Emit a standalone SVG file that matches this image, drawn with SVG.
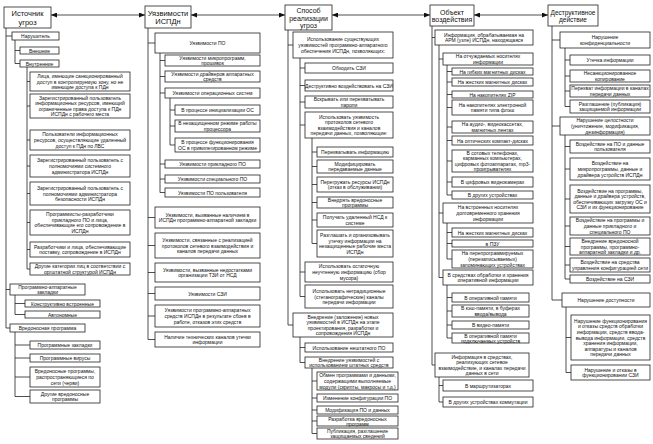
<svg xmlns="http://www.w3.org/2000/svg" width="653" height="444" viewBox="0 0 653 444">
<style>
rect{fill:#fff;stroke:#222;stroke-width:0.8}
text{font-family:"Liberation Sans",Arial,sans-serif;font-size:5px;text-anchor:middle;dominant-baseline:central;fill:#111}
.hd{font-size:7.5px}
.hs{font-size:7px}
.c path{fill:none;stroke:#222;stroke-width:0.8}
.c .ar{marker-start:url(#ah);marker-end:url(#ah)}
</style>
<defs>
<marker id="ah" markerUnits="userSpaceOnUse" markerWidth="6" markerHeight="5" refX="6" refY="2.5" orient="auto-start-reverse"><path d="M0 0L6 2.5L0 5z" fill="#111"/></marker>
</defs>
<rect x="0" y="0" width="653" height="444" style="fill:#fff;stroke:none"/>
<g class="c" id="connectors">
<path class="ar" d="M51 15H145"/><path class="ar" d="M191 15H285"/><path class="ar" d="M332 15H430"/><path class="ar" d="M474 15H548"/>
<path d="M6 28V328M6 36H12M6 289.5H10M6 328H10M15 40V63.5M15 50.5H20M15 63.5H20M27 67V269M27 81.5H30M27 106H30M27 140H30M27 166H30M27 193.5H30M27 222.5H30M27 249.5H30M27 269H30M15 295V314.5M15 303.5H25M15 314.5H25M15 332V396.5M15 345H30M15 358H30M15 377H30M15 396.5H30"/>
<path d="M148 28V339.5M148 43H155M148 217.5H155M148 245.5H155M148 272.5H155M148 293.5H155M148 316H155M148 339.5H155M160 53V192.5M160 60.5H165M160 76.5H165M160 93H165M160 164H165M160 179H165M160 192.5H165M170 98V145M170 110H175M170 126H175M170 145H175"/>
<path d="M288 30V325M288 45H293M288 325H293M300 58V296.5M300 68H305M300 85.5H305M300 102H305M300 125H305M300 272H305M300 296.5H305M312 138V243.5M312 152H317M312 166.5H317M312 184.5H317M312 202.5H317M312 220H317M312 243.5H317M300 337V362.5M300 347.5H305M300 362.5H305M312 368V433.5M312 381H317M312 398H317M312 410H317M312 421H317M312 433.5H317"/>
<path d="M432 26V365M432 37.5H435M432 365H435M439 45V277.5M439 59H443M439 213H443M439 277.5H443M447 65V195M447 71.5H452M447 82H452M447 94.5H452M447 107.5H452M447 127H452M447 140.5H452M447 161H452M447 182H452M447 195H452M447 223V259M447 232.5H452M447 243.5H452M447 259H452M447 285V338M447 297.5H452M447 311H452M447 325H452M447 338H452M439 377V402M439 385.5H443M439 402H443"/>
<path d="M552 26V300M552 40H560M552 126H560M552 300H562M565 48V106.5M565 60H570M565 76H570M565 91H570M565 106.5H570M565 135V279M565 146.5H570M565 169H570M565 199H570M565 226H570M565 246.5H570M565 265H570M565 279H570M566 307V372.5M566 337.5H571M566 372.5H571"/>
</g>
<g id="h1"><rect x="4" y="7" width="47" height="21"/><text class="hd" x="27.5" y="17.5"><tspan x="27.5" dy="-0.56em">Источник</tspan><tspan x="27.5" dy="1.12em">угроз</tspan></text></g>
<g id="n1"><rect x="12" y="32" width="47" height="8"/><text x="35.5" y="36">Нарушитель</text></g>
<g id="n1a"><rect x="20" y="47" width="39" height="7"/><text x="39.5" y="50.5">Внешние</text></g>
<g id="n1b"><rect x="20" y="60" width="39" height="7"/><text x="39.5" y="63.5">Внутренние</text></g>
<g id="i1"><rect x="30" y="72" width="100" height="19"/><text x="80" y="81.5"><tspan x="80" dy="-1.12em">Лица, имеющие санкционированный</tspan><tspan x="80" dy="1.12em">доступ в контролируемую зону, но не</tspan><tspan x="80" dy="1.12em">имеющие доступа к ПДн</tspan></text></g>
<g id="i2"><rect x="30" y="94" width="100" height="24"/><text x="80" y="106"><tspan x="80" dy="-1.68em">Зарегистрированный пользователь</tspan><tspan x="80" dy="1.12em">информационных ресурсов, имеющий</tspan><tspan x="80" dy="1.12em">ограниченные права доступа к ПДн</tspan><tspan x="80" dy="1.12em">ИСПДн с рабочего места</tspan></text></g>
<g id="i3"><rect x="30" y="130" width="100" height="20"/><text x="80" y="140"><tspan x="80" dy="-1.12em">Пользователи информационных</tspan><tspan x="80" dy="1.12em">ресурсов, осуществляющие удаленный</tspan><tspan x="80" dy="1.12em">доступ к ПДн по ЛВС</tspan></text></g>
<g id="i4"><rect x="30" y="155" width="100" height="22"/><text x="80" y="166"><tspan x="80" dy="-1.12em">Зарегистрированный пользователь с</tspan><tspan x="80" dy="1.12em">полномочиями системного</tspan><tspan x="80" dy="1.12em">администратора ИСПДн</tspan></text></g>
<g id="i5"><rect x="30" y="182" width="100" height="23"/><text x="80" y="193.5"><tspan x="80" dy="-1.12em">Зарегистрированный пользователь с</tspan><tspan x="80" dy="1.12em">полномочиями администратора</tspan><tspan x="80" dy="1.12em">безопасности ИСПДн</tspan></text></g>
<g id="i6"><rect x="30" y="210" width="100" height="25"/><text x="80" y="222.5"><tspan x="80" dy="-1.68em">Программисты-разработчики</tspan><tspan x="80" dy="1.12em">прикладного ПО и лица,</tspan><tspan x="80" dy="1.12em">обеспечивающие его сопровождение в</tspan><tspan x="80" dy="1.12em">ИСПДн</tspan></text></g>
<g id="i7"><rect x="30" y="242" width="100" height="15"/><text x="80" y="249.5"><tspan x="80" dy="-0.56em">Разработчики и лица, обеспечивающие</tspan><tspan x="80" dy="1.12em">поставку, сопровождение в ИСПДн</tspan></text></g>
<g id="i8"><rect x="30" y="263" width="100" height="12"/><text x="80" y="269"><tspan x="80" dy="-0.56em">Другие категории лиц в соответствии с</tspan><tspan x="80" dy="1.12em">оргштатной структурой ИСПДн</tspan></text></g>
<g id="paz"><rect x="10" y="284" width="75" height="11"/><text x="47.5" y="289.5"><tspan x="47.5" dy="-0.56em">Программно-аппаратные</tspan><tspan x="47.5" dy="1.12em">закладки</tspan></text></g>
<g id="paz1"><rect x="25" y="300" width="75" height="7"/><text x="62.5" y="303.5">Конструктивно встроенные</text></g>
<g id="paz2"><rect x="25" y="311" width="75" height="7"/><text x="62.5" y="314.5">Автономные</text></g>
<g id="vp"><rect x="10" y="324" width="75" height="8"/><text x="47.5" y="328">Вредоносная программа</text></g>
<g id="vp1"><rect x="30" y="341" width="70" height="8"/><text x="65" y="345">Программные закладки</text></g>
<g id="vp2"><rect x="30" y="354" width="70" height="8"/><text x="65" y="358">Программные вирусы</text></g>
<g id="vp3"><rect x="30" y="367" width="70" height="20"/><text x="65" y="377"><tspan x="65" dy="-1.12em">Вредоносные программы,</tspan><tspan x="65" dy="1.12em">распространяющиеся по</tspan><tspan x="65" dy="1.12em">сети (черви)</tspan></text></g>
<g id="vp4"><rect x="30" y="390" width="70" height="13"/><text x="65" y="396.5"><tspan x="65" dy="-0.56em">Другие вредоносные</tspan><tspan x="65" dy="1.12em">программы</tspan></text></g>

<g id="h2"><rect x="145" y="6" width="46" height="22"/><text class="hd" x="168" y="17"><tspan x="168" dy="-0.56em">Уязвимости</tspan><tspan x="168" dy="1.12em">ИСПДн</tspan></text></g>
<g id="a1"><rect x="155" y="33" width="105" height="20"/><text x="207.5" y="43">Уязвимости ПО</text></g>
<g id="b1"><rect x="165" y="55" width="95" height="11"/><text x="212.5" y="60.5"><tspan x="212.5" dy="-0.56em">Уязвимости микропрограмм,</tspan><tspan x="212.5" dy="1.12em">прошивок</tspan></text></g>
<g id="b2"><rect x="165" y="71" width="95" height="11"/><text x="212.5" y="76.5"><tspan x="212.5" dy="-0.56em">Уязвимости драйверов аппаратных</tspan><tspan x="212.5" dy="1.12em">средств</tspan></text></g>
<g id="b3"><rect x="165" y="88" width="95" height="10"/><text x="212.5" y="93">Уязвимости операционных систем</text></g>
<g id="c1"><rect x="175" y="105" width="85" height="10"/><text x="217.5" y="110">В процессе инициализации ОС</text></g>
<g id="c2"><rect x="175" y="120" width="85" height="12"/><text x="217.5" y="126"><tspan x="217.5" dy="-0.56em">В незащищенном режиме работы</tspan><tspan x="217.5" dy="1.12em">процессора</tspan></text></g>
<g id="c3"><rect x="175" y="138" width="85" height="14"/><text x="217.5" y="145"><tspan x="217.5" dy="-0.56em">В процессе функционирования</tspan><tspan x="217.5" dy="1.12em">ОС в привилегированном режиме</tspan></text></g>
<g id="b4"><rect x="165" y="160" width="95" height="8"/><text x="212.5" y="164">Уязвимости прикладного ПО</text></g>
<g id="b5"><rect x="165" y="175" width="95" height="8"/><text x="212.5" y="179">Уязвимости специального ПО</text></g>
<g id="b6"><rect x="165" y="188" width="95" height="9"/><text x="212.5" y="192.5">Уязвимости ПО пользователя</text></g>
<g id="a2"><rect x="155" y="207" width="105" height="21"/><text x="207.5" y="217.5"><tspan x="207.5" dy="-0.56em">Уязвимости, вызванные наличием в</tspan><tspan x="207.5" dy="1.12em">ИСПДн программно-аппаратной закладки</tspan></text></g>
<g id="a3"><rect x="155" y="233" width="105" height="25"/><text x="207.5" y="245.5"><tspan x="207.5" dy="-1.12em">Уязвимости, связанные с реализацией</tspan><tspan x="207.5" dy="1.12em">протоколов сетевого взаимодействия и</tspan><tspan x="207.5" dy="1.12em">каналов передачи данных</tspan></text></g>
<g id="a4"><rect x="155" y="263" width="105" height="19"/><text x="207.5" y="272.5"><tspan x="207.5" dy="-0.56em">Уязвимости, вызванные недостатками</tspan><tspan x="207.5" dy="1.12em">организации ТЗИ от НСД</tspan></text></g>
<g id="a5"><rect x="155" y="287" width="105" height="13"/><text x="207.5" y="293.5">Уязвимости СЗИ</text></g>
<g id="a6"><rect x="155" y="305" width="105" height="22"/><text x="207.5" y="316"><tspan x="207.5" dy="-1.12em">Уязвимости программно-аппаратных</tspan><tspan x="207.5" dy="1.12em">средств ИСПДн в результате сбоев в</tspan><tspan x="207.5" dy="1.12em">работе, отказов этих средств</tspan></text></g>
<g id="a7"><rect x="155" y="332" width="105" height="15"/><text x="207.5" y="339.5"><tspan x="207.5" dy="-0.56em">Наличие технических каналов утечки</tspan><tspan x="207.5" dy="1.12em">информации</tspan></text></g>

<g id="h3"><rect x="285" y="5" width="47" height="25"/><text class="hs" x="308.5" y="17.5"><tspan x="308.5" dy="-1.12em">Способ</tspan><tspan x="308.5" dy="1.12em">реализации</tspan><tspan x="308.5" dy="1.12em">угроз</tspan></text></g>
<g id="d1"><rect x="293" y="32" width="100" height="26"/><text x="343" y="45"><tspan x="343" dy="-1.12em">Использование существующих</tspan><tspan x="343" dy="1.12em">уязвимостей программно-аппаратного</tspan><tspan x="343" dy="1.12em">обеспечения ИСПДн, позволяющих:</tspan></text></g>
<g id="e1"><rect x="305" y="63" width="88" height="10"/><text x="349" y="68">Обходить СЗИ</text></g>
<g id="e2"><rect x="305" y="80" width="88" height="11"/><text x="349" y="85.5">Деструктивно воздействовать на СЗИ</text></g>
<g id="e3"><rect x="305" y="96" width="88" height="12"/><text x="349" y="102"><tspan x="349" dy="-0.56em">Вскрывать или перехватывать</tspan><tspan x="349" dy="1.12em">пароли</tspan></text></g>
<g id="e4"><rect x="305" y="112" width="88" height="26"/><text x="349" y="125"><tspan x="349" dy="-1.68em">Использовать уязвимость</tspan><tspan x="349" dy="1.12em">протоколов сетевого</tspan><tspan x="349" dy="1.12em">взаимодействия и каналов</tspan><tspan x="349" dy="1.12em">передачи данных, позволяющие:</tspan></text></g>
<g id="f1"><rect x="317" y="147" width="76" height="10"/><text x="355" y="152">Перехватывать информацию</text></g>
<g id="f2"><rect x="317" y="160" width="76" height="13"/><text x="355" y="166.5"><tspan x="355" dy="-0.56em">Модифицировать</tspan><tspan x="355" dy="1.12em">передаваемые данные</tspan></text></g>
<g id="f3"><rect x="317" y="177" width="76" height="15"/><text x="355" y="184.5"><tspan x="355" dy="-0.56em">Перегружать ресурсы ИСПДн</tspan><tspan x="355" dy="1.12em">(отказ в обслуживании)</tspan></text></g>
<g id="f4"><rect x="317" y="197" width="76" height="11"/><text x="355" y="202.5"><tspan x="355" dy="-0.56em">Внедрять вредоносные</tspan><tspan x="355" dy="1.12em">программы</tspan></text></g>
<g id="f5"><rect x="317" y="213" width="76" height="14"/><text x="355" y="220"><tspan x="355" dy="-0.56em">Получать удаленный НСД к</tspan><tspan x="355" dy="1.12em">системе</tspan></text></g>
<g id="f6"><rect x="317" y="230" width="76" height="27"/><text x="355" y="243.5"><tspan x="355" dy="-1.68em">Разглашать и организовывать</tspan><tspan x="355" dy="1.12em">утечку информации на</tspan><tspan x="355" dy="1.12em">незащищенные рабочие места</tspan><tspan x="355" dy="1.12em">ИСПДн</tspan></text></g>
<g id="e5"><rect x="305" y="262" width="88" height="20"/><text x="349" y="272"><tspan x="349" dy="-1.12em">Использовать остаточную</tspan><tspan x="349" dy="1.12em">неучтенную информацию (сбор</tspan><tspan x="349" dy="1.12em">мусора)</tspan></text></g>
<g id="e6"><rect x="305" y="285" width="88" height="23"/><text x="349" y="296.5"><tspan x="349" dy="-1.12em">Использовать нетрадиционные</tspan><tspan x="349" dy="1.12em">(стеганографические) каналы</tspan><tspan x="349" dy="1.12em">передачи информации</tspan></text></g>
<g id="d2"><rect x="293" y="313" width="100" height="24"/><text x="343" y="325"><tspan x="343" dy="-1.68em">Внедрение (заложение) новых</tspan><tspan x="343" dy="1.12em">уязвимостей в ИСПДн на этапе</tspan><tspan x="343" dy="1.12em">проектирования, разработки и</tspan><tspan x="343" dy="1.12em">сопровождения ИСПДн</tspan></text></g>
<g id="g1"><rect x="305" y="343" width="88" height="9"/><text x="349" y="347.5">Использование нештатного ПО</text></g>
<g id="g2"><rect x="305" y="357" width="88" height="11"/><text x="349" y="362.5"><tspan x="349" dy="-0.56em">Внедрение уязвимостей с</tspan><tspan x="349" dy="1.12em">использованием штатных средств</tspan></text></g>
<g id="k1"><rect x="317" y="372" width="81" height="18"/><text x="357.5" y="381"><tspan x="357.5" dy="-1.12em">Обмен программами и данными,</tspan><tspan x="357.5" dy="1.12em">содержащими выполняемые</tspan><tspan x="357.5" dy="1.12em">модули (скрипты, макросы и т.д.)</tspan></text></g>
<g id="k2"><rect x="317" y="394" width="81" height="8"/><text x="357.5" y="398">Изменение конфигурации ПО</text></g>
<g id="k3"><rect x="317" y="406" width="81" height="8"/><text x="357.5" y="410">Модификация ПО и данных</text></g>
<g id="k4"><rect x="317" y="416" width="81" height="10"/><text x="357.5" y="421"><tspan x="357.5" dy="-0.5em">Разработка вредоносных</tspan><tspan x="357.5" dy="1em">программ</tspan></text></g>
<g id="k5"><rect x="317" y="428" width="81" height="11"/><text x="357.5" y="433.5"><tspan x="357.5" dy="-0.56em">Публикация, разглашение</tspan><tspan x="357.5" dy="1.12em">защищаемых сведений</tspan></text></g>

<g id="h4"><rect x="430" y="5" width="44" height="21"/><text class="hs" x="452" y="15.5"><tspan x="452" dy="-0.56em">Объект</tspan><tspan x="452" dy="1.12em">воздействия</tspan></text></g>
<g id="o1"><rect x="435" y="30" width="98" height="15"/><text x="484" y="37.5"><tspan x="484" dy="-0.56em">Информация, обрабатываемая на</tspan><tspan x="484" dy="1.12em">АРМ (узле) ИСПДн, находящаяся</tspan></text></g>
<g id="p1"><rect x="443" y="53" width="90" height="12"/><text x="488" y="59"><tspan x="488" dy="-0.56em">На отчуждаемых носителях</tspan><tspan x="488" dy="1.12em">информации</tspan></text></g>
<g id="q1"><rect x="452" y="68" width="81" height="7"/><text x="492.5" y="71.5">На гибких магнитных дисках</text></g>
<g id="q2"><rect x="452" y="78" width="81" height="8"/><text x="492.5" y="82">На жестких магнитных дисках</text></g>
<g id="q3"><rect x="452" y="91" width="81" height="7"/><text x="492.5" y="94.5">На накопителях ZIP</text></g>
<g id="q4"><rect x="452" y="100" width="81" height="15"/><text x="492.5" y="107.5"><tspan x="492.5" dy="-0.56em">На накопителях электронной</tspan><tspan x="492.5" dy="1.12em">памяти типа флэш</tspan></text></g>
<g id="q5"><rect x="452" y="121" width="81" height="12"/><text x="492.5" y="127"><tspan x="492.5" dy="-0.56em">На аудио-, видеокассетах,</tspan><tspan x="492.5" dy="1.12em">магнитных лентах</tspan></text></g>
<g id="q6"><rect x="452" y="136" width="81" height="9"/><text x="492.5" y="140.5">На оптических компакт-дисках</text></g>
<g id="q7"><rect x="452" y="150" width="81" height="22"/><text x="492.5" y="161"><tspan x="492.5" dy="-1.68em">В сотовых телефонах,</tspan><tspan x="492.5" dy="1.12em">карманных компьютерах,</tspan><tspan x="492.5" dy="1.12em">цифровых фотоаппаратах, mp3-</tspan><tspan x="492.5" dy="1.12em">проигрывателях</tspan></text></g>
<g id="q8"><rect x="452" y="177" width="81" height="10"/><text x="492.5" y="182">В цифровых видеокамерах</text></g>
<g id="q9"><rect x="452" y="191" width="81" height="8"/><text x="492.5" y="195">В других устройствах</text></g>
<g id="p2"><rect x="443" y="203" width="90" height="20"/><text x="488" y="213"><tspan x="488" dy="-1.12em">На встроенных носителях</tspan><tspan x="488" dy="1.12em">долговременного хранения</tspan><tspan x="488" dy="1.12em">информации</tspan></text></g>
<g id="r1"><rect x="452" y="228" width="81" height="9"/><text x="492.5" y="232.5">На жестких магнитных дисках</text></g>
<g id="r2"><rect x="452" y="240" width="81" height="7"/><text x="492.5" y="243.5">в ПЗУ</text></g>
<g id="r3"><rect x="452" y="250" width="81" height="18"/><text x="492.5" y="259"><tspan x="492.5" dy="-1.12em">На перепрограммируемых</tspan><tspan x="492.5" dy="1.12em">(перезаписываемых)</tspan><tspan x="492.5" dy="1.12em">запоминающих устройствах</tspan></text></g>
<g id="p3"><rect x="443" y="270" width="90" height="15"/><text x="488" y="277.5"><tspan x="488" dy="-0.56em">В средствах обработки и хранения</tspan><tspan x="488" dy="1.12em">оперативной информации</tspan></text></g>
<g id="s1"><rect x="452" y="293" width="77" height="9"/><text x="490.5" y="297.5">В оперативной памяти</text></g>
<g id="s2"><rect x="452" y="305" width="77" height="12"/><text x="490.5" y="311"><tspan x="490.5" dy="-0.56em">В кэш-памяти, в буферах</tspan><tspan x="490.5" dy="1.12em">ввода/вывода</tspan></text></g>
<g id="s3"><rect x="452" y="321" width="77" height="8"/><text x="490.5" y="325">В видео-памяти</text></g>
<g id="s4"><rect x="452" y="333" width="77" height="10"/><text x="490.5" y="338"><tspan x="490.5" dy="-0.5em">В оперативной памяти</tspan><tspan x="490.5" dy="1em">подключаемых устройств</tspan></text></g>
<g id="o2"><rect x="435" y="353" width="94" height="24"/><text x="482" y="365"><tspan x="482" dy="-1.68em">Информация в средствах,</tspan><tspan x="482" dy="1.12em">реализующих сетевое</tspan><tspan x="482" dy="1.12em">взаимодействие, и каналах передачи</tspan><tspan x="482" dy="1.12em">данных в сети</tspan></text></g>
<g id="t1"><rect x="443" y="380" width="90" height="11"/><text x="488" y="385.5">В маршрутизаторах</text></g>
<g id="t2"><rect x="443" y="397" width="90" height="10"/><text x="488" y="402">В других устройствах коммутации</text></g>

<g id="h5"><rect x="548" y="5" width="50" height="21"/><text x="573" y="15.5" style="font-size:6.5px"><tspan x="573" dy="-0.56em">Деструктивное</tspan><tspan x="573" dy="1.12em">действие</tspan></text></g>
<g id="u1"><rect x="560" y="32" width="90" height="16"/><text x="605" y="40"><tspan x="605" dy="-0.56em">Нарушение</tspan><tspan x="605" dy="1.12em">конфиденциальности</tspan></text></g>
<g id="w1"><rect x="570" y="55" width="80" height="10"/><text x="610" y="60">Утечка информации</text></g>
<g id="w2"><rect x="570" y="70" width="80" height="12"/><text x="610" y="76"><tspan x="610" dy="-0.56em">Несанкционированное</tspan><tspan x="610" dy="1.12em">копирование</tspan></text></g>
<g id="w3"><rect x="570" y="85" width="80" height="12"/><text x="610" y="91"><tspan x="610" dy="-0.56em">Перехват информации в каналах</tspan><tspan x="610" dy="1.12em">передачи данных</tspan></text></g>
<g id="w4"><rect x="570" y="100" width="80" height="13"/><text x="610" y="106.5"><tspan x="610" dy="-0.56em">Разглашение (публикация)</tspan><tspan x="610" dy="1.12em">защищаемой информации</tspan></text></g>
<g id="u2"><rect x="560" y="117" width="90" height="18"/><text x="605" y="126"><tspan x="605" dy="-1.12em">Нарушение целостности</tspan><tspan x="605" dy="1.12em">(уничтожение, модификация,</tspan><tspan x="605" dy="1.12em">дезинформация)</tspan></text></g>
<g id="x1"><rect x="570" y="140" width="80" height="13"/><text x="610" y="146.5"><tspan x="610" dy="-0.56em">Воздействие на ПО и данные</tspan><tspan x="610" dy="1.12em">пользователя</tspan></text></g>
<g id="x2"><rect x="570" y="158" width="80" height="22"/><text x="610" y="169"><tspan x="610" dy="-1.12em">Воздействие на</tspan><tspan x="610" dy="1.12em">микропрограммы, данные и</tspan><tspan x="610" dy="1.12em">драйвера устройств ИСПДн</tspan></text></g>
<g id="x3"><rect x="570" y="185" width="80" height="28"/><text x="610" y="199"><tspan x="610" dy="-1.68em">Воздействие на программы,</tspan><tspan x="610" dy="1.12em">данные и драйвера устройств,</tspan><tspan x="610" dy="1.12em">обеспечивающих загрузку ОС и</tspan><tspan x="610" dy="1.12em">СЗИ и их функционирование</tspan></text></g>
<g id="x4"><rect x="570" y="217" width="80" height="18"/><text x="610" y="226"><tspan x="610" dy="-1.12em">Воздействие на программы и</tspan><tspan x="610" dy="1.12em">данные прикладного и</tspan><tspan x="610" dy="1.12em">специального ПО</tspan></text></g>
<g id="x5"><rect x="570" y="238" width="80" height="17"/><text x="610" y="246.5"><tspan x="610" dy="-1.12em">Внедрение вредоносной</tspan><tspan x="610" dy="1.12em">программы, программно-</tspan><tspan x="610" dy="1.12em">аппаратной закладки и др.</tspan></text></g>
<g id="x6"><rect x="570" y="258" width="80" height="14"/><text x="610" y="265"><tspan x="610" dy="-0.56em">Воздействие на средства</tspan><tspan x="610" dy="1.12em">управления конфигурацией сети</tspan></text></g>
<g id="x7"><rect x="570" y="275" width="80" height="8"/><text x="610" y="279">Воздействие на СЗИ</text></g>
<g id="u3"><rect x="562" y="293" width="88" height="14"/><text x="606" y="300">Нарушение доступности</text></g>
<g id="y1"><rect x="571" y="315" width="79" height="45"/><text x="610.5" y="337.5"><tspan x="610.5" dy="-3.36em">Нарушение функционирования</tspan><tspan x="610.5" dy="1.12em">и отказы средств обработки</tspan><tspan x="610.5" dy="1.12em">информации, средств ввода-</tspan><tspan x="610.5" dy="1.12em">вывода информации, средств</tspan><tspan x="610.5" dy="1.12em">хранения информации,</tspan><tspan x="610.5" dy="1.12em">аппаратуры и каналов</tspan><tspan x="610.5" dy="1.12em">передачи данных</tspan></text></g>
<g id="y2"><rect x="571" y="365" width="79" height="15"/><text x="610.5" y="372.5"><tspan x="610.5" dy="-0.56em">Нарушение и отказы в</tspan><tspan x="610.5" dy="1.12em">функционировании СЗИ</tspan></text></g>
</svg>
